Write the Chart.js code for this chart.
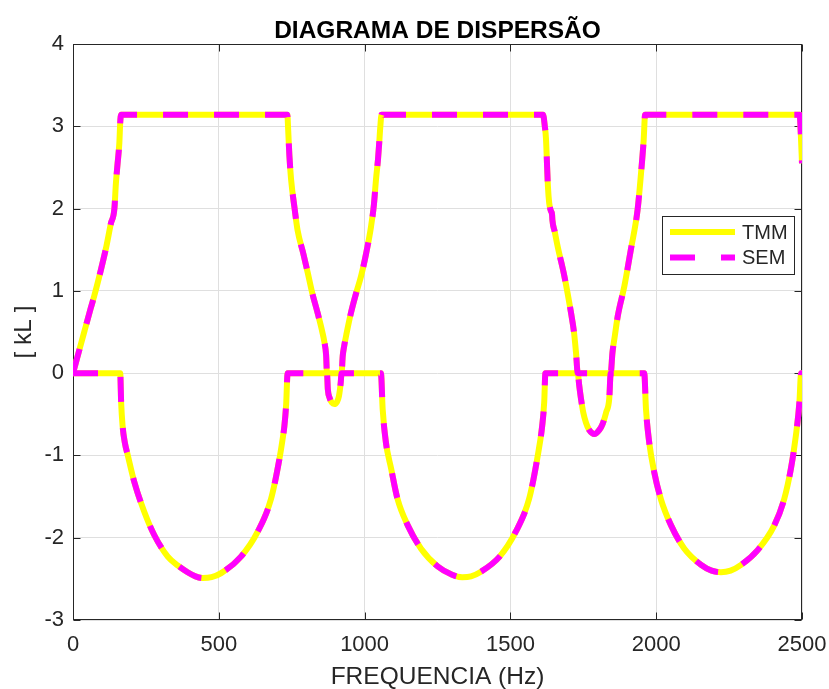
<!DOCTYPE html>
<html>
<head>
<meta charset="utf-8">
<script src="https://cdn.jsdelivr.net/npm/chart.js@4.4.1/dist/chart.umd.min.js"></script>
<style>
  html, body { margin: 0; padding: 0; background: #fff; }
  canvas { display: block; }
</style>
</head>
<body>
<canvas id="dispersion-chart" width="829" height="689"></canvas>
<script>
// ===== data =====
const PI = 3.1416;

// real part of kL (upper curve)
const freqRe = [0, 20, 40, 60, 73, 96, 115, 130, 142, 147, 153, 159, 162, 165,
  735, 738, 742, 748, 760, 770, 790, 805, 820, 839, 855, 862, 868, 871,
  921, 925, 930, 938, 953, 970, 988, 1005, 1022, 1032, 1039, 1046, 1050, 1054, 1058,
  1612, 1618, 1622, 1626, 1629, 1633, 1638, 1643, 1644, 1652, 1662, 1685, 1708, 1718, 1725, 1731,
  1844, 1850, 1858, 1868, 1891, 1913, 1936, 1948, 1957, 1962,
  2492, 2496, 2500];
const tmmRe = [0, 0.26, 0.52, 0.78, 0.94, 1.26, 1.55, 1.82, 2.0, 2.3, 2.55, 2.8, 3.05, PI,
  PI, 2.95, 2.65, 2.35, 2.0, 1.74, 1.45, 1.22, 0.98, 0.73, 0.5, 0.38, 0.22, 0,
  0, 0.21, 0.33, 0.48, 0.73, 0.96, 1.18, 1.45, 1.78, 2.05, 2.35, 2.6, 2.79, 3.0, PI,
  PI, 3.0, 2.85, 2.5, 2.25, 2.07, 1.98, 1.92, 1.86, 1.72, 1.54, 1.18, 0.73, 0.5, 0.25, 0,
  0, 0.25, 0.45, 0.69, 1.06, 1.5, 1.98, 2.43, 2.83, PI,
  PI, 2.9, 2.55];
const semRe = [0, 0.26, 0.52, 0.78, 0.94, 1.26, 1.55, 1.82, 2.0, 2.3, 2.55, 2.8, 3.05, PI,
  PI, 2.95, 2.65, 2.35, 2.0, 1.74, 1.45, 1.22, 0.98, 0.73, 0.5, 0.38, 0.22, 0,
  0, 0.21, 0.33, 0.48, 0.73, 0.96, 1.18, 1.45, 1.78, 2.05, 2.35, 2.6, 2.79, 3.0, PI,
  PI, 3.0, 2.85, 2.5, 2.25, 2.07, 1.98, 1.92, 1.86, 1.72, 1.54, 1.18, 0.73, 0.5, 0.25, 0,
  0, 0.25, 0.45, 0.69, 1.06, 1.5, 1.98, 2.43, 2.83, PI,
  PI, 2.9, 2.55];

// imaginary part of kL (lower curve)
const freqIm = [0, 162, 165, 170, 178, 188, 210, 245, 279, 325, 360, 393, 420, 445, 475, 508, 576, 633, 679, 708, 718, 725, 731, 736,
  871, 874, 880, 888, 896, 905, 912, 918, 921,
  1056, 1062, 1073, 1091, 1113, 1148, 1193, 1251, 1300, 1335, 1365, 1396, 1463, 1518, 1564, 1592, 1609, 1616, 1620,
  1731, 1736, 1742, 1750, 1759, 1770, 1788, 1805, 1816, 1828, 1839, 1844,
  1959, 1965, 1976, 1993, 2016, 2051, 2096, 2154, 2190, 2222, 2255, 2291, 2348, 2405, 2439, 2462, 2479, 2491, 2497, 2500];
const tmmIm = [0, 0, -0.35, -0.64, -0.85, -1.0, -1.32, -1.69, -1.97, -2.23, -2.34, -2.42, -2.47, -2.49, -2.48, -2.43, -2.23, -1.93, -1.53, -1.04, -0.82, -0.64, -0.38, 0,
  0, -0.2, -0.3, -0.36, -0.375, -0.35, -0.28, -0.12, 0,
  0, -0.44, -0.84, -1.16, -1.53, -1.85, -2.13, -2.35, -2.45, -2.48, -2.47, -2.42, -2.23, -1.93, -1.53, -1.04, -0.64, -0.35, 0,
  0, -0.15, -0.31, -0.48, -0.6, -0.69, -0.74, -0.69, -0.62, -0.48, -0.31, 0,
  0, -0.44, -0.84, -1.2, -1.53, -1.85, -2.13, -2.33, -2.4, -2.42, -2.4, -2.33, -2.15, -1.85, -1.53, -1.16, -0.76, -0.36, 0, 0];
const semIm = [0, 0, -0.35, -0.64, -0.85, -1.0, -1.32, -1.69, -1.97, -2.23, -2.34, -2.42, -2.47, -2.49, -2.48, -2.43, -2.23, -1.93, -1.53, -1.04, -0.82, -0.64, -0.38, 0,
  0, -0.2, -0.3, -0.36, -0.375, -0.35, -0.28, -0.12, 0,
  0, -0.44, -0.84, -1.16, -1.53, -1.85, -2.13, -2.35, -2.45, -2.48, -2.47, -2.42, -2.23, -1.93, -1.53, -1.04, -0.64, -0.35, 0,
  0, -0.15, -0.31, -0.48, -0.6, -0.69, -0.74, -0.69, -0.62, -0.48, -0.31, 0,
  0, -0.44, -0.84, -1.2, -1.53, -1.85, -2.13, -2.33, -2.4, -2.42, -2.4, -2.33, -2.15, -1.85, -1.53, -1.16, -0.76, -0.36, 0, 0];

const xTicks = [0, 500, 1000, 1500, 2000, 2500];
const yTicks = [-3, -2, -1, 0, 1, 2, 3, 4];

const chartTitle = "DIAGRAMA DE DISPERSÃO";
const xTitle = "FREQUENCIA (Hz)";
const yTitle = "[ kL ]";

// ===== styles =====
const FONT = "'Liberation Sans', Arial, Helvetica, sans-serif";
const INK = "#262626";
const GRID = "#dfdfdf";
const YELLOW = "#ffff00";
const MAGENTA = "#ff00ff";

const toPoints = (xs, ys) => xs.map((x, i) => ({ x, y: ys[i] }));

const lineStyle = (color, dash) => ({
  borderColor: color,
  backgroundColor: color,
  borderWidth: 6,
  borderDash: dash,
  borderCapStyle: "butt",
  borderJoinStyle: "round",
  pointRadius: 0,
  pointHoverRadius: 0,
  cubicInterpolationMode: "monotone",
  fill: false,
});

// box + inward ticks like matlab axes
const boxPlugin = {
  id: "matlabBox",
  beforeDatasetsDraw(chart) {
    const { ctx, chartArea: a, scales } = chart;
    const L = Math.round(a.left) + 0.5, R = Math.round(a.right) - 0.5;
    const T = Math.round(a.top) + 0.5, B = Math.round(a.bottom) - 0.5;
    const tl = 7;
    ctx.save();
    ctx.strokeStyle = INK;
    ctx.lineWidth = 1;
    ctx.strokeRect(L, T, R - L, B - T);
    ctx.beginPath();
    xTicks.forEach((v) => {
      const px = Math.round(scales.x.getPixelForValue(v)) + 0.5;
      ctx.moveTo(px, B); ctx.lineTo(px, B - tl);
      ctx.moveTo(px, T); ctx.lineTo(px, T + tl);
    });
    yTicks.forEach((v) => {
      const py = Math.round(scales.y.getPixelForValue(v)) + 0.5;
      ctx.moveTo(L, py); ctx.lineTo(L + tl, py);
      ctx.moveTo(R, py); ctx.lineTo(R - tl, py);
    });
    ctx.stroke();
    ctx.restore();
  },
};

// title centered on the axes + legend box inside
const decorPlugin = {
  id: "matlabDecor",
  afterDraw(chart) {
    const { ctx, chartArea: a } = chart;
    ctx.save();
    ctx.fillStyle = "#000";
    ctx.font = `bold 24.5px ${FONT}`;
    ctx.textAlign = "center";
    ctx.textBaseline = "middle";
    ctx.fillText(chartTitle, (a.left + a.right) / 2, 31);

    // legend
    const items = chart.data.datasets.filter((d) => d.showInLegend);
    items.sort((p, q) => p.legendIndex - q.legendIndex);
    const bx = a.right - 140, by = a.top + 172, bw = 132, bh = 58;
    ctx.fillStyle = "#fff";
    ctx.fillRect(bx, by, bw, bh);
    ctx.strokeStyle = INK;
    ctx.lineWidth = 1;
    ctx.strokeRect(Math.round(bx) + 0.5, Math.round(by) + 0.5, bw, bh);
    items.forEach((d, i) => {
      const y = by + 16 + i * 25.6;
      ctx.beginPath();
      ctx.strokeStyle = d.borderColor;
      ctx.lineWidth = d.borderWidth;
      ctx.lineCap = "butt";
      ctx.setLineDash(d.borderDash || []);
      ctx.moveTo(bx + 8, y);
      ctx.lineTo(bx + 73, y);
      ctx.stroke();
      ctx.setLineDash([]);
      ctx.fillStyle = INK;
      ctx.font = `20px ${FONT}`;
      ctx.textAlign = "left";
      ctx.textBaseline = "middle";
      ctx.fillText(d.label, bx + 80, y + 1);
    });
    ctx.restore();
  },
};

new Chart(document.getElementById("dispersion-chart").getContext("2d"), {
  type: "line",
  data: {
    datasets: [
      { label: "SEM", data: toPoints(freqRe, semRe), order: 1, showInLegend: true, legendIndex: 1, ...lineStyle(MAGENTA, [25, 26]) },
      { label: "SEM im", data: toPoints(freqIm, semIm), order: 1, ...lineStyle(MAGENTA, [25, 26]) },
      { label: "TMM", data: toPoints(freqRe, tmmRe), order: 2, showInLegend: true, legendIndex: 0, ...lineStyle(YELLOW, []) },
      { label: "TMM im", data: toPoints(freqIm, tmmIm), order: 2, ...lineStyle(YELLOW, []) },
    ],
  },
  options: {
    responsive: false,
    animation: false,
    devicePixelRatio: 1,
    events: [],
    layout: { autoPadding: false, padding: { top: 44, right: 27, bottom: 0, left: 0 } },
    plugins: {
      legend: { display: false },
      title: { display: false },
      tooltip: { enabled: false },
    },
    scales: {
      x: {
        type: "linear",
        min: 0,
        max: 2500,
        afterBuildTicks: (s) => { s.ticks = xTicks.map((v) => ({ value: v })); },
        afterFit: (s) => { s.height = 69; s.paddingLeft = 0; s.paddingRight = 0; },
        grid: { color: GRID, drawTicks: false },
        border: { display: false },
        ticks: { color: INK, padding: 12, maxRotation: 0, callback: (v) => String(v), font: { family: FONT, size: 22 } },
        title: {
          display: true,
          text: xTitle,
          color: INK,
          padding: { top: 0, bottom: 0 },
          font: { family: FONT, size: 24.5, lineHeight: 1 },
        },
      },
      y: {
        type: "linear",
        min: -3,
        max: 4,
        afterBuildTicks: (s) => { s.ticks = yTicks.map((v) => ({ value: v })); },
        afterFit: (s) => { s.width = 73; s.paddingTop = 0; s.paddingBottom = 0; },
        grid: { color: GRID, drawTicks: false },
        border: { display: false },
        ticks: { color: INK, padding: 9, callback: (v) => String(v), font: { family: FONT, size: 22 } },
        title: {
          display: true,
          text: yTitle,
          color: INK,
          padding: { top: 12, bottom: 0 },
          font: { family: FONT, size: 24.5, lineHeight: 1 },
        },
      },
    },
  },
  plugins: [boxPlugin, decorPlugin],
});
</script>
</body>
</html>
